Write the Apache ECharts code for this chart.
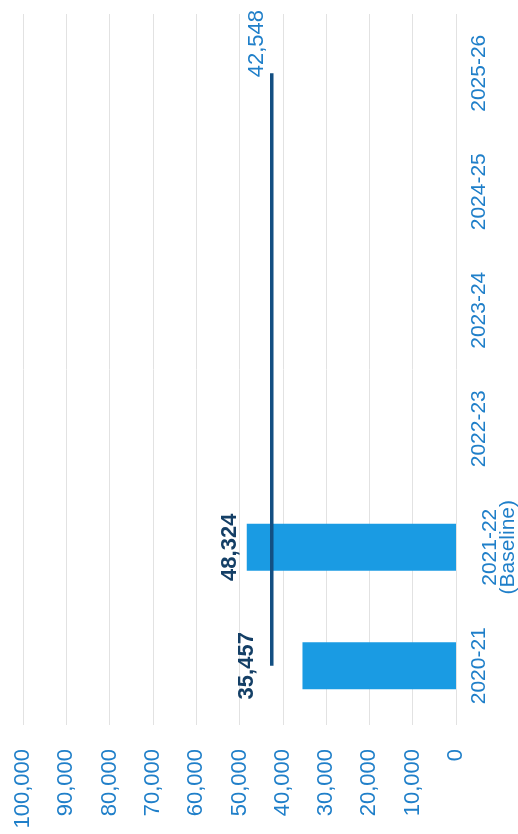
<!DOCTYPE html>
<html>
<head>
<meta charset="utf-8">
<script src="https://cdn.jsdelivr.net/npm/echarts@6/dist/echarts.min.js"></script>
<style>
  html, body { margin: 0; padding: 0; background: #ffffff; }
  #chart { width: 518px; height: 834px; }
</style>
</head>
<body>
<div id="chart"></div>
<script>
// Financial years, shown bottom to top along the right-hand axis
const categories = ['2020-21', '2021-22\n(Baseline)', '2022-23', '2023-24', '2024-25', '2025-26'];
// Actual annual totals (only the first two years are reported)
const actualValues = [35457, 48324, null, null, null, null];
// Flat target level carried across all years
const targetValues = [42548, 42548, 42548, 42548, 42548, 42548];
// Value axis range and step
const axisMin = 0;
const axisMax = 100000;
const axisStep = 10000;

const fmt = v => Number(v).toLocaleString('en-US');
const blueText = '#1f7fc9';
const navy = '#143f66';

// Per-bar label spacing: the first label sits clear of the target line
const labelDistance = [45, 6];

const barData = actualValues.map((v, i) => (
  v == null ? null : {
    value: v,
    label: { distance: labelDistance[i] }
  }
));

// Two-line category labels get extra top padding so their first line
// starts just beyond the single-line labels
const axisCategories = categories.map(c => (
  c.indexOf('\n') >= 0 ? { value: c, textStyle: { padding: [11, 0, 0, 0] } } : c
));

const chart = echarts.init(document.getElementById('chart'), null, { renderer: 'canvas' });
chart.setOption({
  animation: false,
  backgroundColor: '#ffffff',
  grid: {
    left: 23, right: 62, top: 14, bottom: 109,
    containLabel: false,
    outerBoundsMode: 'none'
  },
  xAxis: {
    type: 'value',
    inverse: true,
    position: 'bottom',
    min: axisMin,
    max: axisMax,
    interval: axisStep,
    axisLine: { show: false },
    axisTick: { show: false },
    splitLine: { show: true, lineStyle: { color: '#e2e2e2', width: 1 } },
    axisLabel: {
      rotate: 90,
      margin: 24,
      color: blueText,
      fontFamily: 'Liberation Sans, Arial, sans-serif',
      fontSize: 22,
      formatter: v => fmt(v)
    }
  },
  yAxis: {
    type: 'category',
    position: 'right',
    data: axisCategories,
    axisLine: { show: false },
    axisTick: { show: false },
    splitLine: { show: false },
    axisLabel: {
      interval: 0,
      rotate: 90,
      margin: 14,
      color: blueText,
      fontFamily: 'Liberation Sans, Arial, sans-serif',
      fontSize: 21,
      lineHeight: 18
    }
  },
  series: [
    {
      type: 'bar',
      data: barData,
      barWidth: 47,
      itemStyle: { color: '#1a9be3' },
      label: {
        show: true,
        position: 'left',
        rotate: 90,
        align: 'center',
        verticalAlign: 'bottom',
        color: navy,
        fontWeight: 'bold',
        fontFamily: 'Liberation Sans, Arial, sans-serif',
        fontSize: 22,
        formatter: p => fmt(p.value)
      },
      z: 2
    },
    {
      type: 'line',
      data: targetValues,
      symbol: 'none',
      lineStyle: { color: '#134f82', width: 3.5 },
      label: { show: false },
      endLabel: {
        show: true,
        rotate: 90,
        align: 'left',
        verticalAlign: 'bottom',
        offset: [-12, -4],
        color: blueText,
        fontFamily: 'Liberation Sans, Arial, sans-serif',
        fontSize: 22,
        formatter: p => fmt(p.value)
      },
      z: 3
    }
  ]
});
</script>
</body>
</html>
